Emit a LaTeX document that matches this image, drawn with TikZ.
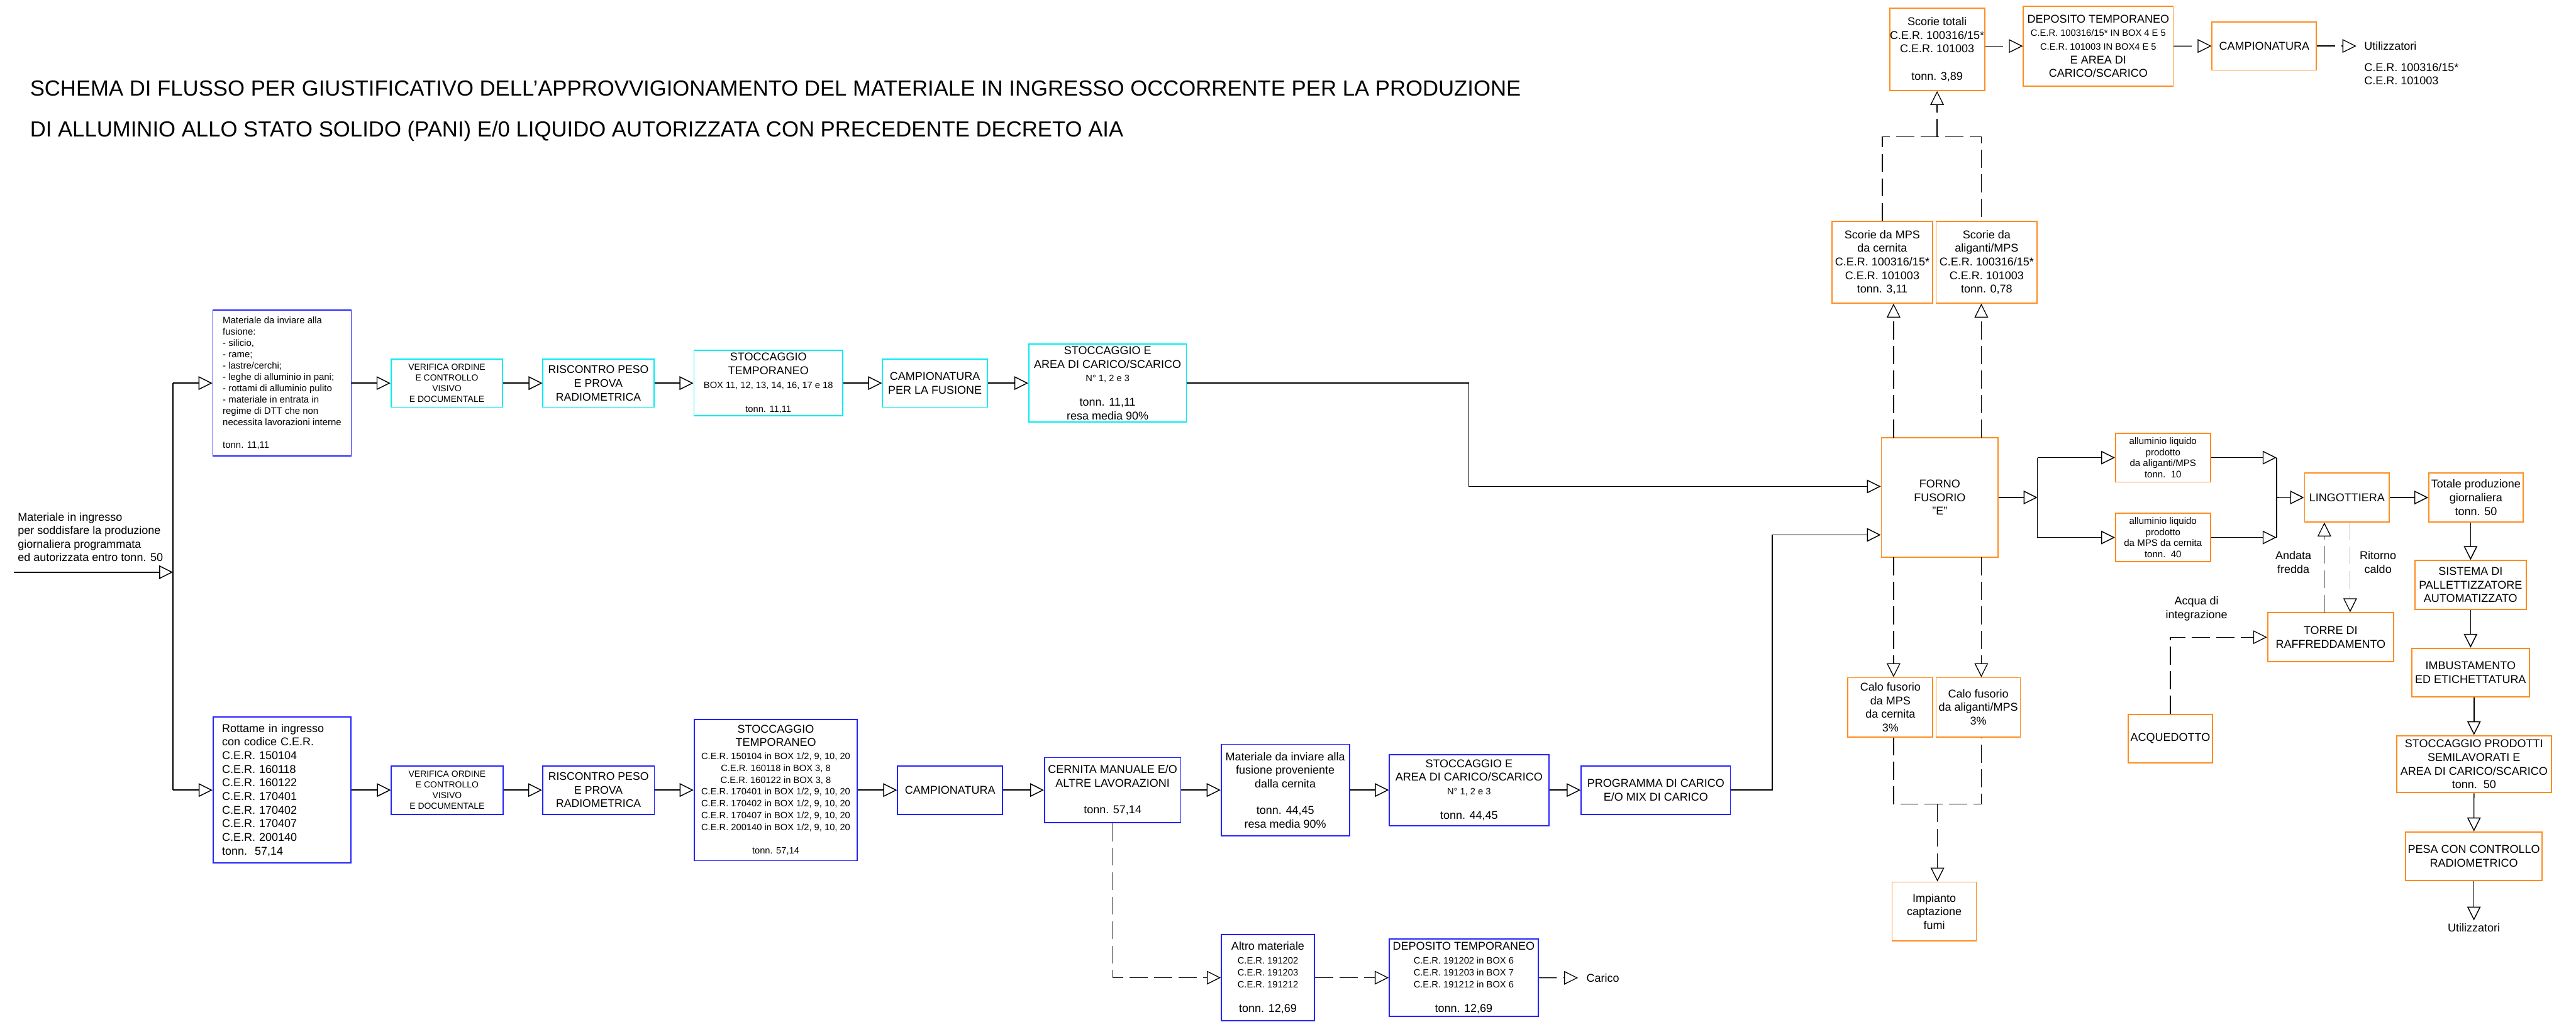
\documentclass[tikz,border=0pt]{standalone}
\usepackage{fontspec}
\setmainfont{Liberation Sans}
\usetikzlibrary{arrows.meta}

\definecolor{cyanbox}{RGB}{0,235,245}
\definecolor{bluebox}{RGB}{35,35,255}
\definecolor{orangebox}{RGB}{255,140,30}

\newcommand{\txtn}{\fontsize{4.9pt}{5.9pt}\selectfont}
\newcommand{\txts}{\fontsize{4pt}{5.1pt}\selectfont}
\newcommand{\txtt}{\fontsize{3.8pt}{4.55pt}\selectfont}

\tikzset{
  bx/.style={draw, rectangle, inner sep=1pt, line width=0.5pt, align=center, font=\txtn},
  cbox/.style={bx, draw=cyanbox},
  bbox/.style={bx, draw=bluebox},
  obox/.style={bx, draw=orangebox},
  wh/.style 2 args={minimum width=#1*0.025cm, minimum height=#2*0.025cm},
  flow/.style={-{Triangle[open,length=6pt,width=5.9pt,color=black]}, line width=0.4pt},
  dsh/.style={dash pattern=on 7.8pt off 2.8pt, line width=0.35pt},
  lbl/.style={font=\txtn, align=center, inner sep=1pt}
}

\begin{document}
\begin{tikzpicture}[x=0.025cm, y=-0.025cm]
        \useasboundingbox (0,0) rectangle (1568,622);

        \node[anchor=west, align=left, inner sep=0pt, font=\fontsize{9.45pt}{17.8pt}\selectfont] (title) at (18,67.5) {SCHEMA DI FLUSSO PER GIUSTIFICATIVO DELL'APPROVVIGIONAMENTO DEL MATERIALE IN INGRESSO OCCORRENTE PER LA PRODUZIONE\\DI ALLUMINIO ALLO STATO SOLIDO (PANI) E/0 LIQUIDO AUTORIZZATA CON PRECEDENTE DECRETO AIA};
        \node[anchor=west, align=left, inner sep=0pt, font=\fontsize{4.9pt}{5.85pt}\selectfont] (input) at (10.6,327) {Materiale in ingresso\\per soddisfare la produzione\\giornaliera programmata\\ed autorizzata entro tonn. 50};

        \node[bbox, wh={84.2}{89}, align=left, font=\fontsize{4.07pt}{4.9pt}\selectfont] (mat1) at (171.7,233.2) {Materiale da inviare alla\\fusione:\\- silicio,\\- rame;\\- lastre/cerchi;\\- leghe di alluminio in pani;\\- rottami di alluminio pulito\\- materiale in entrata in\\regime di DTT che non\\necessita lavorazioni interne\\[4.85pt]tonn. 11,11};
        \node[cbox, wh={68}{29.4}, font=\txtt] (ver1) at (272,233.2) {VERIFICA ORDINE\\E CONTROLLO\\VISIVO\\E DOCUMENTALE};
        \node[cbox, wh={67.5}{29.4}, font=\fontsize{4.8pt}{6pt}\selectfont] (ris1) at (364.25,233.2) {RISCONTRO PESO\\E PROVA\\RADIOMETRICA};
        \node[cbox, wh={90.6}{39.8}] (sto1) at (467.7,233.2) {STOCCAGGIO\\TEMPORANEO\\{\txts BOX 11, 12, 13, 14, 16, 17 e 18}\\[4.4pt]{\txts tonn. 11,11}};
        \node[cbox, wh={63.8}{29.4}, font=\fontsize{4.9pt}{6.1pt}\selectfont] (camp1) at (569.1,233.2) {CAMPIONATURA\\PER LA FUSIONE};
        \node[cbox, wh={96}{47.1}] (stoE1) at (674.2,233.2) {STOCCAGGIO E\\AREA DI CARICO/SCARICO\\{\txts N° 1, 2 e 3}\\[4.7pt]tonn. 11,11\\resa media 90\%};

        \node[bbox, wh={84}{88.9}, text width=52pt, inner xsep=3.84pt, align=left] (rott) at (171.7,480.9) {Rottame in ingresso\\con codice C.E.R.\\C.E.R. 150104\\C.E.R. 160118\\C.E.R. 160122\\C.E.R. 170401\\C.E.R. 170402\\C.E.R. 170407\\C.E.R. 200140\\tonn.~~57,14};
        \node[bbox, wh={67.9}{29.4}, font=\txtt] (ver2) at (272.15,480.9) {VERIFICA ORDINE\\E CONTROLLO\\VISIVO\\E DOCUMENTALE};
        \node[bbox, wh={68}{29.4}, font=\fontsize{4.8pt}{5.8pt}\selectfont] (ris2) at (364.3,480.9) {RISCONTRO PESO\\E PROVA\\RADIOMETRICA};
        \node[bbox, wh={99.4}{86}, font=\txts] (sto2) at (472.2,480.9) {{\txtn STOCCAGGIO}\\[0.7pt]{\txtn TEMPORANEO}\\[0.7pt]C.E.R. 150104 in BOX 1/2, 9, 10, 20\\C.E.R. 160118 in BOX 3, 8\\C.E.R. 160122 in BOX 3, 8\\C.E.R. 170401 in BOX 1/2, 9, 10, 20\\C.E.R. 170402 in BOX 1/2, 9, 10, 20\\C.E.R. 170407 in BOX 1/2, 9, 10, 20\\C.E.R. 200140 in BOX 1/2, 9, 10, 20\\[5.2pt]tonn. 57,14};
        \node[bbox, wh={63.9}{29.4}] (camp2) at (578.35,480.9) {CAMPIONATURA};
        \node[bbox, wh={82.9}{39.6}] (cern) at (677.25,480.9) {CERNITA MANUALE E/O\\ALTRE LAVORAZIONI\\[5.7pt]tonn. 57,14};
        \node[bbox, wh={78.1}{55.7}] (mat2) at (782.35,480.9) {Materiale da inviare alla\\fusione proveniente\\dalla cernita\\[5.6pt]tonn. 44,45\\resa media 90\%};
        \node[bbox, wh={97}{43.3}] (stoE2) at (894.2,480.9) {STOCCAGGIO E\\AREA DI CARICO/SCARICO\\{\txts N° 1, 2 e 3}\\[4.8pt]tonn. 44,45};
        \node[bbox, wh={90.9}{29.4}] (prog) at (1007.85,480.9) {PROGRAMMA DI CARICO\\E/O MIX DI CARICO};
        \node[bbox, wh={56.7}{52.4}, font=\txts] (altro) at (771.75,595.1) {{\txtn Altro materiale}\\[1pt]C.E.R. 191202\\C.E.R. 191203\\C.E.R. 191212\\[5.6pt]{\txtn tonn. 12,69}};
        \node[bbox, wh={90.7}{47.2}, font=\txts] (dep2) at (890.95,595.1) {{\txtn DEPOSITO TEMPORANEO}\\[1pt]C.E.R. 191202 in BOX 6\\C.E.R. 191203 in BOX 7\\C.E.R. 191212 in BOX 6\\[5.5pt]{\txtn tonn. 12,69}};
        \node[lbl, anchor=west, inner xsep=3.5pt] (carico) at (960.5,595.2) {Carico};

        \node[obox, wh={71.1}{73}] (forno) at (1180.75,302.8) {FORNO\\FUSORIO\\"E"};
        \node[obox, wh={61.5}{49.7}] (scMPS) at (1145.75,159.65) {Scorie da MPS\\da cernita\\C.E.R. 100316/15*\\C.E.R. 101003\\tonn. 3,11};
        \node[obox, wh={61.5}{49.7}] (scAlig) at (1209.25,159.65) {Scorie da\\aliganti/MPS\\C.E.R. 100316/15*\\C.E.R. 101003\\tonn. 0,78};
        \node[obox, wh={57.8}{50}, inner xsep=0pt] (scTot) at (1179.1,30.1) {Scorie totali\\C.E.R. 100316/15*\\C.E.R. 101003\\[6pt]tonn. 3,89};
        \node[obox, wh={91.2}{48.7}] (depTop) at (1277.2,28.05) {DEPOSITO TEMPORANEO\\{\txts C.E.R. 100316/15* IN BOX 4 E 5}\\{\txts C.E.R. 101003 IN BOX4 E 5}\\E AREA DI\\CARICO/SCARICO};
        \node[obox, wh={63.5}{29.4}] (campTop) at (1378.25,28) {CAMPIONATURA};
        \node[lbl, anchor=west, inner xsep=3.2pt] (util1) at (1434.3,28) {Utilizzatori};
        \node[lbl, anchor=west, align=left, inner xsep=3.2pt] (cerU) at (1434.3,45) {C.E.R. 100316/15*\\C.E.R. 101003};
        \node[obox, wh={51.7}{36}] (calo1) at (1150.65,430.5) {Calo fusorio\\da MPS\\da cernita\\3\%};
        \node[obox, wh={51.3}{36}] (calo2) at (1204.15,430.5) {Calo fusorio\\da aliganti/MPS\\3\%};
        \node[obox, wh={51.3}{35.9}] (imp) at (1177.35,554.85) {Impianto\\captazione\\fumi};
        \node[obox, wh={57.8}{29.7}, font=\fontsize{4.1pt}{4.8pt}\selectfont] (all1) at (1316.6,278.55) {alluminio liquido\\prodotto\\da aliganti/MPS\\tonn.~~10};
        \node[obox, wh={57.8}{29.7}, font=\fontsize{4.1pt}{4.8pt}\selectfont] (all2) at (1316.6,327.15) {alluminio liquido\\prodotto\\da MPS da cernita\\tonn.~~40};
        \node[obox, wh={51.6}{29.7}] (lingo) at (1428.6,302.85) {LINGOTTIERA};
        \node[obox, wh={57.4}{29.7}] (tot) at (1507.1,302.85) {Totale produzione\\giornaliera\\tonn. 50};
        \node[obox, wh={67.6}{29.7}] (sist) at (1503.8,356.05) {SISTEMA DI\\PALLETTIZZATORE\\AUTOMATIZZATO};
        \node[obox, wh={76.7}{29.7}] (torre) at (1418.65,387.85) {TORRE DI\\RAFFREDDAMENTO};
        \node[obox, wh={51.3}{29.4}] (acq) at (1321.05,449.5) {ACQUEDOTTO};
        \node[obox, wh={71.6}{29.5}] (imb) at (1503.8,409.35) {IMBUSTAMENTO\\ED ETICHETTATURA};
        \node[obox, wh={94.2}{34.7}] (stoP) at (1505.9,465.15) {STOCCAGGIO PRODOTTI\\SEMILAVORATI E\\AREA DI CARICO/SCARICO\\tonn.~~50};
        \node[obox, wh={82.3}{29.6}] (pesa) at (1505.85,521.2) {PESA CON CONTROLLO\\RADIOMETRICO};
        \node[lbl] (util2) at (1505.85,564.5) {Utilizzatori};
        \node[lbl] (andata) at (1396,342.2) {Andata\\fredda};
        \node[lbl] (ritorno) at (1447.5,342.2) {Ritorno\\caldo};
        \node[lbl] (acqua) at (1337,370.5) {Acqua di\\integrazione};

        \coordinate (inL) at (8.6,348.3);
        \coordinate (spT) at (105.3,233.2);
        \coordinate (spM) at (105.3,348.3);
        \coordinate (spB) at (105.3,480.9);
        \draw[flow] (inL) -- (spM);
        \draw[line width=0.4pt] (spT) -- (spB);
        \draw[flow] (spT) -- (mat1);
        \draw[flow] (spB) -- (rott);

        \draw[flow] (mat1) -- (ver1);
        \draw[flow] (ver1) -- (ris1);
        \draw[flow] (ris1) -- (sto1);
        \draw[flow] (sto1) -- (camp1);
        \draw[flow] (camp1) -- (stoE1);

        \draw[flow] (rott) -- (ver2);
        \draw[flow] (ver2) -- (ris2);
        \draw[flow] (ris2) -- (sto2);
        \draw[flow] (sto2) -- (camp2);
        \draw[flow] (camp2) -- (cern);
        \draw[flow] (cern) -- (mat2);
        \draw[flow] (mat2) -- (stoE2);
        \draw[flow] (stoE2) -- (prog);

        \draw[flow,dsh] (cern.south) -- (cern.south |- altro.west) -- (altro.west);
        \draw[flow,dsh] (altro) -- (dep2);
        \draw[flow,dsh] (dep2) -- (carico.west);

        \coordinate (k1) at (894.1,233.2);
        \coordinate (k2) at (894.1,296.1);
        \coordinate (k3) at (1078.8,480.9);
        \coordinate (k4) at (1078.8,325.6);
        \draw[flow] (stoE1) -- (k1) -- (k2) -- (k2 -| forno.west);
        \draw[flow] (prog) -- (k3) -- (k4) -- (k4 -| forno.west);

        \coordinate (fa) at (1152.6,266.3);
        \coordinate (fb) at (1206,266.3);
        \coordinate (fc) at (1152.6,339.3);
        \coordinate (fd) at (1206,339.3);
        \draw[flow,dsh] (fa) -- (fa |- scMPS.south);
        \draw[flow,dsh] (fb) -- (fb |- scAlig.south);
        \draw[flow,dsh] (fc) -- (fc |- calo1.north);
        \draw[flow,dsh] (fd) -- (fd |- calo2.north);

        \coordinate (ja) at (1152.6,489.5);
        \coordinate (jb) at (1206,489.5);
        \coordinate (jc) at (1179.3,489.5);
        \draw[dsh] (ja |- calo1.south) -- (ja) -- (jb) -- (jb |- calo2.south);
        \draw[flow,dsh] (jc) -- (jc |- imp.north);

        \coordinate (ta) at (1145.75,83.4);
        \coordinate (tb) at (1206.1,83.4);
        \coordinate (tc) at (1179.1,83.4);
        \draw[dsh] (scMPS.north) -- (ta) -- (tb) -- (tb |- scAlig.north);
        \draw[flow,dsh] (tc) -- (scTot.south);
        \draw[flow,dsh] (depTop.west -| scTot.east) -- (depTop.west);
        \draw[flow,dsh] (depTop) -- (campTop);
        \draw[flow,dsh] (campTop) -- (util1.west);

        \coordinate (sa) at (1240.2,302.8);
        \coordinate (ma) at (1385.7,302.8);
        \draw[flow] (forno) -- (sa);
        \draw[line width=0.4pt] (sa |- all1) -- (sa |- all2);
        \draw[flow] (sa |- all1) -- (all1);
        \draw[flow] (sa |- all2) -- (all2);
        \draw[flow] (all1) -- (ma |- all1);
        \draw[flow] (all2) -- (ma |- all2);
        \draw[line width=0.4pt] (ma |- all1) -- (ma |- all2);
        \draw[flow] (ma) -- (lingo);
        \draw[flow] (lingo) -- (tot);
        \draw[flow] (tot.south -| sist.north) -- (sist);
        \draw[flow] (sist) -- (imb);
        \draw[flow] (imb.south -| stoP.north) -- (stoP);
        \draw[flow] (stoP) -- (pesa);
        \draw[flow] (pesa) -- (util2);

        \coordinate (an) at (1414.8,373);
        \coordinate (ri) at (1430.5,317.7);
        \draw[flow,dsh] (an) -- (an |- lingo.south);
        \draw[flow,dsh,draw=gray!60] (ri) -- (ri |- torre.north);
        \draw[flow,dsh] (acq.north) -- (acq.north |- torre.west) -- (torre.west);
      \end{tikzpicture}
\end{document}
